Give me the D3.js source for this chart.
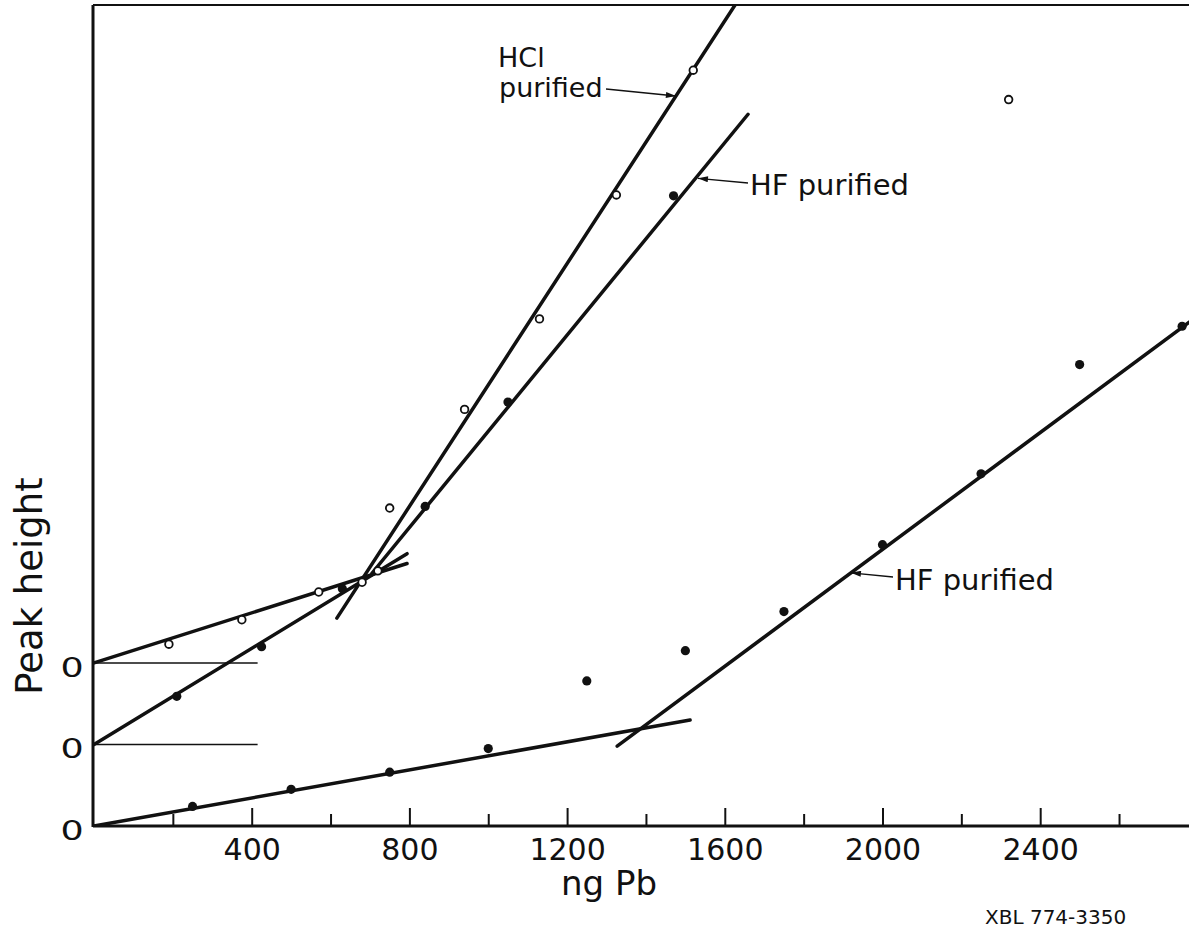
<!DOCTYPE html>
<html><head><meta charset="utf-8">
<script src="https://cdn.jsdelivr.net/npm/d3@7"></script>
<style>
body{margin:0;background:#fff}
svg{display:block}
text{font-family:"DejaVu Sans",sans-serif;fill:#111}
</style>
</head><body><script>
// ---- data ----
const majorTicks = [400, 800, 1200, 1600, 2000, 2400];
const minorTicks = [200, 600, 1000, 1400, 1800, 2200, 2600];
const baselineOffsets = [0, 10, 20];       // zero level of each curve (arbitrary peak-height units)

// HCl purified (open circles), zero at offset 20
const hclX = [190, 375, 570, 680, 720, 750, 940, 1130, 1325, 1520, 2320];
const hclY = [2.3, 5.3, 8.7, 9.9, 11.3, 19.0, 31.1, 42.2, 57.4, 72.7, 69.1];
const hclFitLow  = [[0, 0], [794, 12.2]];
const hclFitHigh = [[616, 5.5], [1626, 80.7]];

// HF purified, upper curve (filled dots), zero at offset 10
const hfAX = [210, 425, 630, 840, 1050, 1470];
const hfAY = [5.9, 12.0, 19.1, 29.2, 42.0, 67.3];
const hfAFitLow  = [[0, 0], [794, 23.4]];
const hfAFitHigh = [[705, 21.0], [1659, 77.3]];

// HF purified, lower curve (filled dots), zero at offset 0
const hfBX = [250, 500, 750, 1000, 1250, 1500, 1750, 2000, 2250, 2500, 2760];
const hfBY = [2.4, 4.5, 6.6, 9.5, 17.8, 21.5, 26.3, 34.5, 43.2, 56.6, 61.3];
const hfBFitLow  = [[0, 0], [1512, 13.0]];
const hfBFitHigh = [[1327, 9.8], [2778, 61.8]];

const xTitle = "ng Pb";
const yTitle = "Peak height";
const figId = "XBL 774-3350";

// ---- chart ----
(function () {
const W = 1189, H = 930;
const pL = 93, pT = 5, pB = 826, pR = 1189;
const x = d3.scaleLinear().domain([0, 2780]).range([94, 1190]);
const y = d3.scaleLinear().domain([0, 100.7]).range([pB, pT]);

const svg = d3.select("body").append("svg").attr("width", W).attr("height", H);

const defs = svg.append("defs");
defs.append("clipPath").attr("id", "plot").append("rect")
  .attr("x", pL).attr("y", pT).attr("width", pR - pL).attr("height", pB - pT);
defs.append("marker").attr("id", "arr").attr("viewBox", "0 0 10 6")
  .attr("refX", 10).attr("refY", 3).attr("markerWidth", 11).attr("markerHeight", 6)
  .attr("markerUnits", "userSpaceOnUse").attr("orient", "auto")
  .append("path").attr("d", "M0,0L10,3L0,6Z").attr("fill", "#111");

// frame
svg.append("line").attr("x1", pL).attr("x2", pR).attr("y1", pT).attr("y2", pT)
  .attr("stroke", "#111").attr("stroke-width", 2.2);
svg.append("line").attr("x1", pL).attr("x2", pL).attr("y1", pT).attr("y2", pB + 1)
  .attr("stroke", "#111").attr("stroke-width", 3);

// x axis ticks
const gMaj = svg.append("g").attr("transform", `translate(0,${pB})`)
  .call(d3.axisBottom(x).tickValues(majorTicks).tickSize(-18).tickFormat(d3.format("d")));
const gMin = svg.append("g").attr("transform", `translate(0,${pB})`)
  .call(d3.axisBottom(x).tickValues(minorTicks).tickSize(-12).tickFormat(""));
[gMaj, gMin].forEach(g => {
  g.select(".domain").remove();
  g.selectAll(".tick line").attr("stroke", "#111").attr("stroke-width", 2);
});
gMaj.selectAll(".tick text").attr("y", 34).attr("dy", 0)
  .style("font-family", '"DejaVu Sans",sans-serif').style("font-size", "30px").attr("fill", "#111");
svg.append("line").attr("x1", pL).attr("x2", pR).attr("y1", pB).attr("y2", pB)
  .attr("stroke", "#111").attr("stroke-width", 3);

// zero markers on y axis
svg.selectAll("text.zero").data(baselineOffsets).enter().append("text")
  .attr("class", "zero")
  .attr("transform", d => `translate(72,${y(d) + 14}) scale(1.35,1)`)
  .attr("text-anchor", "middle").style("font-size", "27px").text("0");
svg.selectAll("line.base").data(baselineOffsets.filter(d => d > 0)).enter().append("line")
  .attr("x1", x(0) - 1).attr("x2", x(415)).attr("y1", d => y(d)).attr("y2", d => y(d))
  .attr("stroke", "#111").attr("stroke-width", 1.4);

// curves
const series = [
  { off: 20, xs: hclX, ys: hclY, open: true,  fits: [hclFitLow, hclFitHigh] },
  { off: 10, xs: hfAX, ys: hfAY, open: false, fits: [hfAFitLow, hfAFitHigh] },
  { off: 0,  xs: hfBX, ys: hfBY, open: false, fits: [hfBFitLow, hfBFitHigh] }
];
const plot = svg.append("g").attr("clip-path", "url(#plot)");
series.forEach(s => {
  const line = d3.line().x(d => x(d[0])).y(d => y(d[1] + s.off));
  s.fits.forEach(f => plot.append("path").attr("d", line(f))
    .attr("fill", "none").attr("stroke", "#111").attr("stroke-width", 3.5).attr("stroke-linecap", "round"));
});
series.forEach(s => {
  const pts = s.xs.map((v, i) => [v, s.ys[i]]);
  plot.selectAll(null).data(pts).enter().append("circle")
    .attr("cx", d => x(d[0])).attr("cy", d => y(d[1] + s.off))
    .attr("r", s.open ? 3.8 : 4.6)
    .attr("fill", s.open ? "#fff" : "#111")
    .attr("stroke", "#111").attr("stroke-width", s.open ? 1.8 : 0);
});

// annotations
function onFit(f, v, off) {
  const [[x0, y0], [x1, y1]] = f;
  return [x(v), y(y0 + (v - x0) * (y1 - y0) / (x1 - x0) + off)];
}
function arrow(from, to) {
  svg.append("line").attr("x1", from[0]).attr("y1", from[1]).attr("x2", to[0]).attr("y2", to[1])
    .attr("stroke", "#111").attr("stroke-width", 1.4).attr("marker-end", "url(#arr)");
}
const annSize = "29px";
svg.append("text").attr("x", 498).attr("y", 67).style("font-size", "27px").text("HCl");
svg.append("text").attr("x", 499).attr("y", 97).style("font-size", "27px").text("purified");
arrow([606, 89], onFit(hclFitHigh, 1476, 20));

svg.append("text").attr("x", 750).attr("y", 195).style("font-size", annSize).text("HF purified");
arrow([748, 183], onFit(hfAFitHigh, 1532, 10).map((d, i) => i ? d + 3 : d));

svg.append("text").attr("x", 895).attr("y", 590).style("font-size", annSize).text("HF purified");
arrow([893, 577], onFit(hfBFitHigh, 1920, 0));

// titles
svg.append("text").attr("transform", "translate(42,586) rotate(-90)")
  .attr("text-anchor", "middle").style("font-size", "37px").text(yTitle);
svg.append("text").attr("x", 609).attr("y", 895)
  .attr("text-anchor", "middle").style("font-size", "34px").text(xTitle);
svg.append("text").attr("x", 985).attr("y", 924).style("font-size", "20px").text(figId);
})();
</script></body></html>
